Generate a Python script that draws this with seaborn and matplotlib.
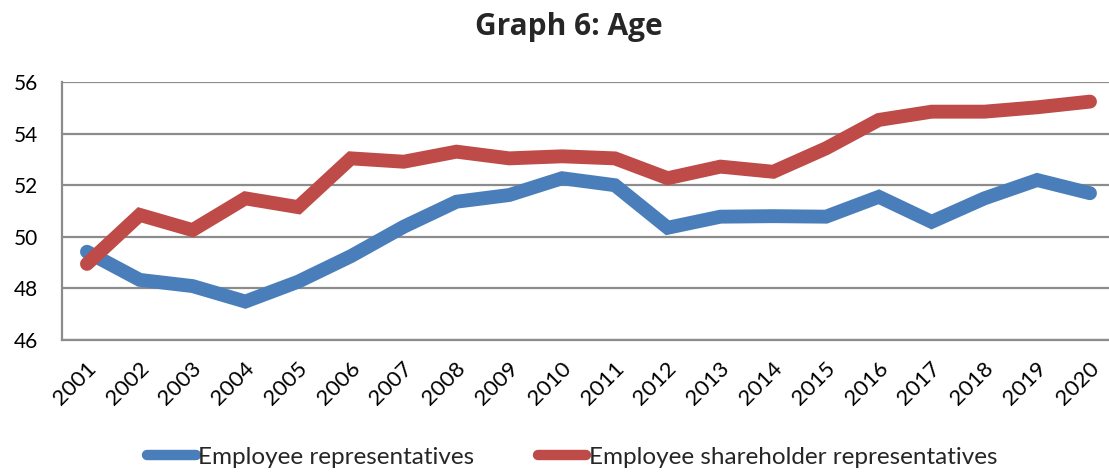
import matplotlib
matplotlib.use("Agg")
import matplotlib.pyplot as plt
import matplotlib.transforms as mtransforms
import numpy as np
import pandas as pd
import seaborn as sns

years = [str(y) for y in range(2001, 2021)]
employee_reps = [49.42, 48.33, 48.09, 47.49, 48.26, 49.25, 50.39, 51.36, 51.62, 52.27,
                 52.00, 50.35, 50.78, 50.80, 50.78, 51.55, 50.58, 51.49, 52.20, 51.69]
shareholder_reps = [48.95, 50.85, 50.26, 51.49, 51.15, 53.04, 52.91, 53.30, 53.04, 53.12,
                    53.04, 52.27, 52.72, 52.52, 53.43, 54.53, 54.85, 54.85, 55.02, 55.24]
series_names = ["Employee representatives", "Employee shareholder representatives"]
colors = ["#4A7EBB", "#BE4B48"]

df = pd.DataFrame({
    "year": years * 2,
    "age": employee_reps + shareholder_reps,
    "group": [series_names[0]] * len(years) + [series_names[1]] * len(years),
})
df["pos"] = list(range(len(years))) * 2

sns.set_theme(style="white")
plt.rcParams["font.family"] = ["Lato", "DejaVu Sans"]

fig = plt.figure(figsize=(11.09, 4.75), dpi=100)
ax = fig.add_axes([62 / 1109, 1 - 340 / 475, 1047 / 1109, 258 / 475])

sns.lineplot(data=df, x="pos", y="age", hue="group", palette=colors,
             linewidth=10, ax=ax, legend=False, sort=False)
for line in ax.get_lines():
    line.set_solid_capstyle("round")
    line.set_solid_joinstyle("miter")

ax.set_ylim(46, 56)
ax.set_yticks(np.arange(46, 57, 2))
ax.set_xlim(-0.473, 19.36)
ax.set_xticks(range(len(years)))
ax.set_xticklabels(years, rotation=45, ha="right", va="center", rotation_mode="anchor")
ax.tick_params(axis="both", length=0, colors="black")
ax.tick_params(axis="x", labelsize=16, pad=18)
ax.tick_params(axis="y", labelsize=15, pad=17)
ax.set_xlabel("")
ax.set_ylabel("")

# nudge the rotated year labels a little to the right, as in the original
shift = mtransforms.ScaledTranslation(6 / 100, 0, fig.dpi_scale_trans)
for lbl in ax.get_xticklabels():
    lbl.set_transform(lbl.get_transform() + shift)

ax.yaxis.grid(True, color="#8C8C8C", linewidth=1.6)
ax.set_axisbelow(True)
for side in ["top", "right"]:
    ax.spines[side].set_visible(False)
for side in ["left", "bottom"]:
    ax.spines[side].set_color("#8C8C8C")
    ax.spines[side].set_linewidth(1.6)

fig.text(0.513, 1 - 27 / 475, "Graph 6: Age", ha="center", va="center",
         fontsize=21.5, fontweight="bold", family=["Open Sans", "DejaVu Sans"])

handles = [plt.Line2D([0], [0], color=c, linewidth=7.5, solid_capstyle="round") for c in colors]
fig.legend(handles, series_names, loc="center", bbox_to_anchor=(0.516, 1 - 457 / 475),
           ncol=2, frameon=False, fontsize=17.5, handlelength=2.0, handletextpad=0.1,
           columnspacing=2.6, borderpad=0)

fig.savefig("out.png", dpi=100)
